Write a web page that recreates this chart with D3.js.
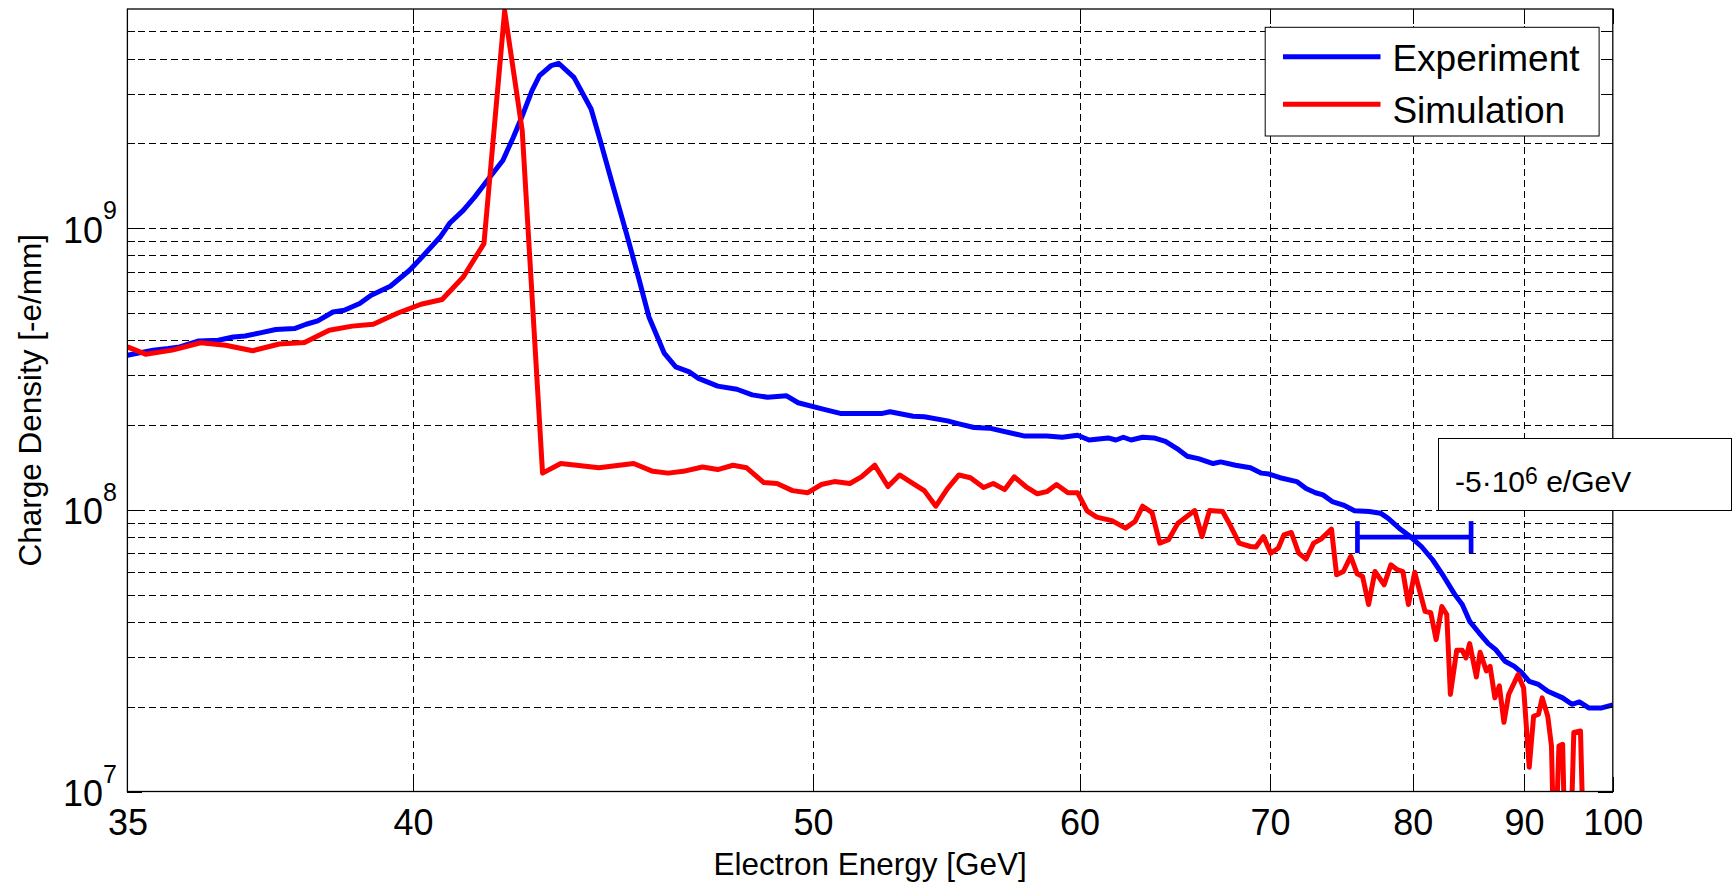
<!DOCTYPE html>
<html>
<head>
<meta charset="utf-8">
<script src="https://cdn.jsdelivr.net/npm/d3@7"></script>
<style>
html, body { margin: 0; padding: 0; background: #fff; }
svg { display: block; font-family: "Liberation Sans", Arial, Helvetica, sans-serif; }
</style>
</head>
<body>
<svg id="chart" width="1733" height="886"></svg>
<script>
// ---------------- DATA ----------------
const expEnergy = [35.00,35.40,35.64,35.82,36.13,36.45,36.70,36.90,37.16,37.43,37.76,37.97,38.18,38.46,38.67,38.96,39.18,39.55,39.93,40.12,
  40.55,40.75,41.03,41.27,41.60,41.88,42.11,42.30,42.53,42.70,42.97,43.14,43.50,43.91,44.13,44.45,44.78,45.08,45.35,45.75,
  46.05,46.41,46.66,47.19,47.73,48.17,48.62,49.19,49.54,50.38,50.87,52.27,52.53,53.34,53.74,54.59,55.02,55.60,56.20,57.59,
  58.56,59.23,59.91,60.43,61.31,61.68,62.04,62.41,62.98,63.55,64.13,64.73,65.27,65.87,66.68,67.10,67.95,68.82,69.48,69.94,
  70.62,71.68,72.28,72.90,73.40,74.03,74.80,75.59,76.66,77.49,78.05,78.92,79.79,80.69,81.61,82.55,83.51,84.16,84.82,85.67,
  86.53,87.23,88.12,89.04,89.78,90.54,91.50,92.48,94.10,95.14,95.99,97.08,98.63,100.0];
const expCharge = [3.54e8,3.69e8,3.74e8,3.79e8,3.98e8,4.00e8,4.11e8,4.14e8,4.25e8,4.37e8,4.40e8,4.56e8,4.69e8,5.04e8,5.11e8,5.40e8,5.78e8,6.22e8,7.09e8,7.69e8,
  9.30e8,1.043e9,1.157e9,1.289e9,1.52e9,1.74e9,2.10e9,2.48e9,3.08e9,3.48e9,3.78e9,3.85e9,3.43e9,2.65e9,2.05e9,1.40e9,9.56e8,6.71e8,4.84e8,3.59e8,
  3.22e8,3.09e8,2.93e8,2.75e8,2.68e8,2.56e8,2.51e8,2.54e8,2.40e8,2.27e8,2.20e8,2.20e8,2.23e8,2.15e8,2.14e8,2.07e8,2.02e8,1.96e8,1.95e8,1.83e8,
  1.83e8,1.81e8,1.84e8,1.77e8,1.80e8,1.77e8,1.81e8,1.77e8,1.81e8,1.80e8,1.75e8,1.65e8,1.55e8,1.52e8,1.46e8,1.48e8,1.44e8,1.41e8,1.35e8,1.34e8,
  1.30e8,1.26e8,1.19e8,1.15e8,1.13e8,1.07e8,1.04e8,9.92e7,9.86e7,9.73e7,9.35e7,8.61e7,8.04e7,7.41e7,6.65e7,5.80e7,5.00e7,4.61e7,4.02e7,3.66e7,
  3.35e7,3.19e7,2.90e7,2.78e7,2.64e7,2.46e7,2.40e7,2.27e7,2.15e7,2.04e7,2.08e7,1.98e7,1.98e7,2.03e7];

const simEnergy = [35.00,35.28,35.70,36.16,36.57,37.03,37.49,37.94,38.39,38.82,39.22,39.70,40.16,40.59,41.03,41.47,41.92,42.31,42.77,43.19,
  44.10,44.96,45.45,45.85,46.25,46.77,47.19,47.62,48.01,48.51,48.90,49.37,49.84,50.26,50.68,51.18,51.56,52.01,52.46,52.86,
  53.34,53.74,54.16,54.59,55.02,55.46,55.97,56.35,56.81,57.20,57.67,58.16,58.56,58.98,59.48,59.91,60.34,60.78,61.49,62.14,
  62.60,62.98,63.45,63.84,64.29,64.78,65.67,66.07,66.48,67.21,67.63,68.16,68.82,69.15,69.60,70.05,70.51,70.86,71.33,71.80,
  72.28,72.78,73.27,73.98,74.33,74.80,75.32,75.78,76.17,76.61,77.08,77.77,78.28,78.77,79.21,79.65,80.15,80.99,81.46,81.91,
  82.39,82.81,83.12,83.67,84.16,84.49,84.82,85.43,85.77,86.35,86.70,87.15,87.58,88.02,88.48,89.41,89.97,90.54,90.99,91.50,
  91.89,92.48,92.88,93.21,93.69,94.10,94.43,94.90,95.35,96.12,96.55];
const simCharge = [3.79e8,3.57e8,3.69e8,3.92e8,3.84e8,3.67e8,3.88e8,3.93e8,4.34e8,4.49e8,4.56e8,5.00e8,5.37e8,5.58e8,6.71e8,8.81e8,5.90e9,2.22e9,1.35e8,1.46e8,
  1.41e8,1.46e8,1.37e8,1.35e8,1.37e8,1.42e8,1.39e8,1.44e8,1.41e8,1.25e8,1.24e8,1.17e8,1.15e8,1.23e8,1.26e8,1.24e8,1.31e8,1.44e8,1.21e8,1.33e8,
  1.24e8,1.17e8,1.03e8,1.19e8,1.33e8,1.30e8,1.20e8,1.24e8,1.18e8,1.31e8,1.21e8,1.14e8,1.16e8,1.23e8,1.15e8,1.15e8,9.92e7,9.42e7,9.16e7,8.61e7,
  9.09e7,1.03e8,9.78e7,7.62e7,7.83e7,8.97e7,9.94e7,8.04e7,9.94e7,9.86e7,8.85e7,7.62e7,7.41e7,7.38e7,8.04e7,7.02e7,7.31e7,8.15e7,8.31e7,7.02e7,
  6.69e7,7.62e7,7.87e7,8.54e7,5.88e7,6.04e7,6.83e7,5.93e7,5.80e7,4.61e7,6.04e7,5.42e7,6.38e7,6.13e7,6.04e7,4.61e7,6.00e7,4.36e7,4.31e7,3.46e7,
  4.54e7,4.25e7,2.21e7,3.17e7,3.17e7,2.98e7,3.35e7,2.55e7,3.12e7,2.68e7,2.78e7,2.15e7,2.37e7,1.76e7,2.21e7,2.60e7,2.33e7,1.22e7,1.85e7,1.88e7,
  2.15e7,1.85e7,1.45e7,5e6,1.45e7,1.47e7,5e6,5e6,1.62e7,1.64e7,5e6];

const xTickEnergies = [35, 40, 50, 60, 70, 80, 90, 100];
const xTickLabels = ["35", "40", "50", "60", "70", "80", "90", "100"];
const yMajorTicks = [1e7, 1e8, 1e9];
const yTickExponents = ["7", "8", "9"];
const yMinorMultipliers = [2, 3, 4, 5, 6, 7, 8, 9];
const seriesNames = ["Experiment", "Simulation"];
const seriesColors = ["#0000ff", "#ff0000"];
const resolutionBar = { center: 80, low: 75.8, high: 84.95, charge: 8.0e7 };
const annotationParts = ["-5\u00b710", "6", " e/GeV"];
const xTitle = "Electron Energy [GeV]";
const yTitle = "Charge Density [-e/mm]";

// ---------------- LAYOUT ----------------
const plot = { left: 127.4, right: 1612.8, top: 9, bottom: 791.5 };
const plotW = plot.right - plot.left, plotH = plot.bottom - plot.top;
const FONT = '"Liberation Sans", Arial, Helvetica, sans-serif';

// spectrometer axis: screen position is linear in 1/E
const x = d3.scaleLinear().domain([1 / 35, 1 / 100]).range([plot.left, plot.right]);
const xE = e => x(1 / e);
const y = d3.scaleLog().domain([1e7, 6e9]).range([plot.bottom, plot.top]);

const yMinor = [];
yMajorTicks.forEach(m => yMinorMultipliers.forEach(k => { const v = m * k; if (v < 6e9) yMinor.push(v); }));
const yGrid = yMajorTicks.filter(v => v > 1e7).concat(yMinor);
const xGridEnergies = xTickEnergies.filter(e => e > 35 && e < 100);

const svg = d3.select("#chart");
svg.append("rect").attr("width", 1733).attr("height", 886).attr("fill", "#fff");

const dash = "6.5,4.5";
// horizontal grid
svg.append("g").attr("transform", `translate(${plot.left},0)`)
  .call(d3.axisLeft(y).tickValues(yGrid).tickSize(-plotW).tickFormat(""))
  .call(g => g.select(".domain").remove())
  .call(g => g.selectAll("line").attr("stroke", "#000").attr("stroke-width", 1)
    .attr("stroke-dasharray", dash).attr("shape-rendering", "crispEdges"));
// vertical grid
svg.append("g").attr("transform", `translate(0,${plot.bottom})`)
  .call(d3.axisBottom(x).tickValues(xGridEnergies.map(e => 1 / e)).tickSize(-plotH).tickFormat(""))
  .call(g => g.select(".domain").remove())
  .call(g => g.selectAll("line").attr("stroke", "#000").attr("stroke-width", 1)
    .attr("stroke-dasharray", dash).attr("shape-rendering", "crispEdges"));

// data lines
svg.append("clipPath").attr("id", "plotClip")
  .append("rect").attr("x", plot.left).attr("y", plot.top).attr("width", plotW).attr("height", plotH);

const line = d3.line().x(d => xE(d.e)).y(d => y(d.v));
const series = [
  expEnergy.map((e, i) => ({ e, v: expCharge[i] })),
  simEnergy.map((e, i) => ({ e, v: simCharge[i] }))
];
const gLines = svg.append("g").attr("clip-path", "url(#plotClip)");
series.forEach((s, i) => {
  gLines.append("path").datum(s).attr("d", line)
    .attr("fill", "none").attr("stroke", seriesColors[i]).attr("stroke-width", 5)
    .attr("stroke-linejoin", "round").attr("stroke-linecap", "butt");
});

// axes ticks (inward)
function styleTicks(g) {
  g.select(".domain").remove();
  g.selectAll("line").attr("stroke", "#000").attr("stroke-width", 1).attr("shape-rendering", "crispEdges");
}
const xTickFmt = d => xTickLabels[xTickEnergies.indexOf(Math.round(1 / d))];
const gx = svg.append("g").attr("transform", `translate(0,${plot.bottom})`)
  .call(d3.axisBottom(x).tickValues(xTickEnergies.map(e => 1 / e)).tickSize(-15).tickPadding(18).tickFormat(xTickFmt))
  .call(styleTicks);
gx.attr("font-size", 36).attr("font-family", FONT);
gx.selectAll("text").attr("fill", "#000");

svg.append("g").attr("transform", `translate(0,${plot.top})`)
  .call(d3.axisTop(x).tickValues(xTickEnergies.map(e => 1 / e)).tickSize(-15).tickFormat(""))
  .call(styleTicks);

const gy = svg.append("g").attr("transform", `translate(${plot.left},0)`)
  .call(d3.axisLeft(y).tickValues(yMajorTicks).tickSize(-15).tickPadding(10.4).tickFormat(() => ""))
  .call(styleTicks);
gy.attr("font-size", 36).attr("font-family", FONT);
gy.selectAll(".tick text").each(function (d, i) {
  const t = d3.select(this).attr("fill", "#000").attr("dy", 14);
  t.text(null);
  t.append("tspan").text("10");
  t.append("tspan").attr("dy", -23.3).attr("font-size", 25).text(yTickExponents[i]);
});
svg.append("g").attr("transform", `translate(${plot.left},0)`)
  .call(d3.axisLeft(y).tickValues(yMinor).tickSize(-7.5).tickFormat(""))
  .call(styleTicks);
svg.append("g").attr("transform", `translate(${plot.right},0)`)
  .call(d3.axisRight(y).tickValues(yMajorTicks).tickSize(-15).tickFormat(""))
  .call(styleTicks);
svg.append("g").attr("transform", `translate(${plot.right},0)`)
  .call(d3.axisRight(y).tickValues(yMinor).tickSize(-7.5).tickFormat(""))
  .call(styleTicks);

// axes box
svg.append("rect").attr("x", plot.left).attr("y", plot.top).attr("width", plotW).attr("height", plotH)
  .attr("fill", "none").attr("stroke", "#000").attr("stroke-width", 1.3);

// axis titles
svg.append("text").attr("x", (plot.left + plot.right) / 2).attr("y", 875)
  .attr("text-anchor", "middle").attr("font-size", 31.5).attr("font-family", FONT).text(xTitle);
svg.append("text").attr("transform", `translate(41,${(plot.top + plot.bottom) / 2}) rotate(-90)`)
  .attr("text-anchor", "middle").attr("font-size", 31.5).attr("font-family", FONT).text(yTitle);

// legend
const lg = svg.append("g");
lg.append("rect").attr("x", 1265.2).attr("y", 27.3).attr("width", 333.9).attr("height", 108.7)
  .attr("fill", "#fff").attr("stroke", "#000").attr("stroke-width", 1);
const legendRows = [56.7, 104.3];
const legendBase = [70.7, 122.5];
seriesNames.forEach((name, i) => {
  lg.append("line").attr("x1", 1283).attr("x2", 1380.5).attr("y1", legendRows[i]).attr("y2", legendRows[i])
    .attr("stroke", seriesColors[i]).attr("stroke-width", 5);
  lg.append("text").attr("x", 1392.4).attr("y", legendBase[i]).attr("font-size", 37)
    .attr("font-family", FONT).attr("fill", "#000").text(name);
});

// resolution annotation
const ag = svg.append("g");
ag.append("rect").attr("x", 1438.5).attr("y", 438.5).attr("width", 293).attr("height", 72)
  .attr("fill", "#fff").attr("stroke", "#000").attr("stroke-width", 1);
const at = ag.append("text").attr("x", 1455).attr("y", 491.7).attr("font-size", 30).attr("font-family", FONT);
at.append("tspan").text(annotationParts[0]);
at.append("tspan").attr("dy", -8).attr("font-size", 23).text(annotationParts[1]);
at.append("tspan").attr("dy", 8).text(annotationParts[2]);

// resolution bar
const by = y(resolutionBar.charge);
const bg = svg.append("g").attr("stroke", seriesColors[0]).attr("stroke-width", 4.7);
bg.append("line").attr("x1", xE(resolutionBar.low)).attr("x2", xE(resolutionBar.high)).attr("y1", by).attr("y2", by);
[resolutionBar.low, resolutionBar.high].forEach(e => {
  bg.append("line").attr("x1", xE(e)).attr("x2", xE(e)).attr("y1", by - 16).attr("y2", by + 16);
});
</script>
</body>
</html>
